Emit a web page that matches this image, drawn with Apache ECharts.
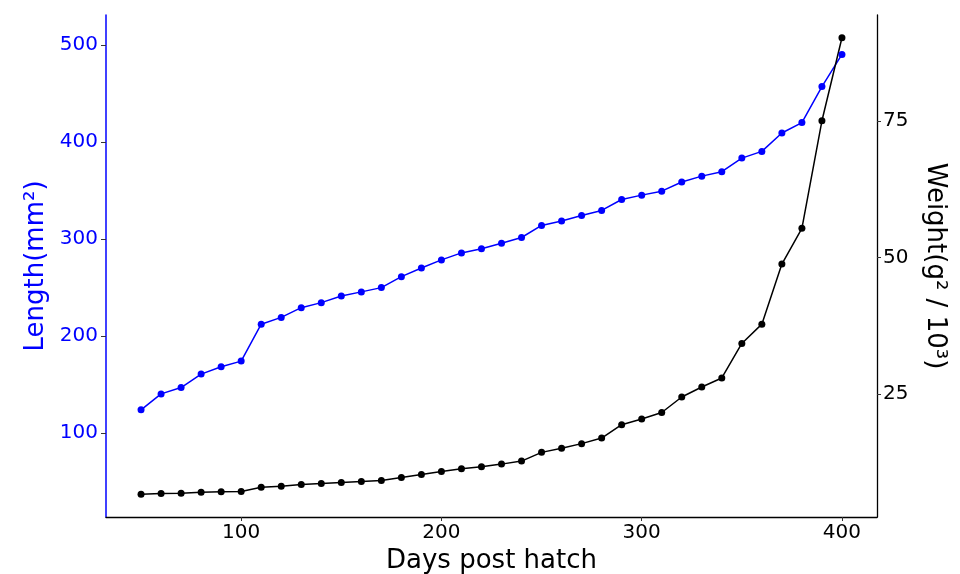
<!DOCTYPE html>
<html>
<head>
<meta charset="utf-8">
<script src="https://cdn.jsdelivr.net/npm/echarts@6/dist/echarts.min.js"></script>
<style>
html,body{margin:0;padding:0;background:#fff;overflow:hidden;}
#chart{width:960px;height:574px;}
</style>
</head>
<body>
<div id="chart"></div>
<script>
var days = [50,60,70,80,90,100,110,120,130,140,150,160,170,180,190,200,210,220,230,240,250,260,270,280,290,300,310,320,330,340,350,360,370,380,390,400];
var lengthVals = [123.8,140.3,146.8,160.7,168.2,174.1,212.2,219.2,229.2,234.4,241.3,245.5,249.9,261.2,270.2,278.5,285.7,289.9,295.7,301.6,314.0,318.6,324.3,329.5,340.8,345.3,349.4,358.9,364.9,369.5,383.5,390.4,409.4,420.1,457.3,490.4];
var weightVals = [6.65,6.78,6.83,7.01,7.09,7.14,7.93,8.12,8.43,8.61,8.8,8.98,9.17,9.72,10.27,10.82,11.31,11.67,12.15,12.70,14.30,15.05,15.9,16.92,19.37,20.4,21.6,24.44,26.27,27.92,34.23,37.77,48.77,55.32,75.0,90.2];
var xTicks = [100,200,300,400];
var leftTicks = [100,200,300,400,500];
var rightTicks = [25,50,75];

var FONT = 'DejaVu Sans';
var chart = echarts.init(document.getElementById('chart'), null, {renderer:'canvas'});
var lenData = days.map(function(d,i){return [d, lengthVals[i]];});
var wData = days.map(function(d,i){return [d, weightVals[i]];});

chart.setOption({
  animation:false,
  backgroundColor:'#ffffff',
  grid:{left:106,right:83,top:15,bottom:57,containLabel:false,outerBoundsMode:'none'},
  xAxis:{
    type:'value', min:32.5, max:417.5,
    name:'Days post hatch', nameLocation:'middle', nameGap:27,
    nameTextStyle:{fontFamily:FONT,fontSize:26,color:'#000'},
    axisLine:{show:true,onZero:false,lineStyle:{color:'#000',width:1.3}},
    axisTick:{show:true,length:4,customValues:xTicks,lineStyle:{color:'#333',width:1}},
    axisLabel:{customValues:xTicks,fontFamily:FONT,fontSize:20,color:'#000',margin:6},
    splitLine:{show:false}
  },
  yAxis:[{
    type:'value', position:'left', min:13.3, max:531.1,
    name:'Length(mm²)', nameLocation:'middle', nameGap:57,
    nameTextStyle:{fontFamily:FONT,fontSize:26,color:'#0000ff'},
    axisLine:{show:true,onZero:false,lineStyle:{color:'#0000ff',width:1.5}},
    axisTick:{show:true,length:5,customValues:leftTicks,lineStyle:{color:'#333',width:1}},
    axisLabel:{customValues:leftTicks,fontFamily:FONT,fontSize:20,color:'#0000ff',margin:8},
    splitLine:{show:false}
  },{
    type:'value', position:'right', min:2.47, max:94.36,
    name:'Weight(g² / 10³)', nameLocation:'middle', nameGap:45, nameRotate:-90,
    nameTextStyle:{fontFamily:FONT,fontSize:26,color:'#000'},
    axisLine:{show:true,onZero:false,lineStyle:{color:'#000',width:1.3}},
    axisTick:{show:true,length:4,customValues:rightTicks,lineStyle:{color:'#333',width:1}},
    axisLabel:{customValues:rightTicks,fontFamily:FONT,fontSize:20,color:'#000',margin:6},
    splitLine:{show:false}
  }],
  series:[{
    type:'line', yAxisIndex:0, data:lenData,
    symbol:'circle', symbolSize:7, showSymbol:true,
    lineStyle:{color:'#0000ff',width:1.5},
    itemStyle:{color:'#0000ff'}
  },{
    type:'line', yAxisIndex:1, data:wData,
    symbol:'circle', symbolSize:7, showSymbol:true,
    lineStyle:{color:'#000',width:1.5},
    itemStyle:{color:'#000'}
  }]
});
</script>
</body>
</html>
